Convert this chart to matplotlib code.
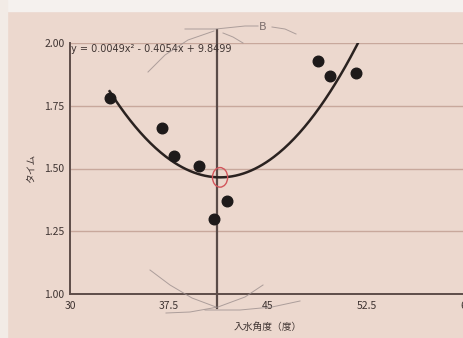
import numpy as np
import matplotlib
matplotlib.use("Agg")
import matplotlib.pyplot as plt
from matplotlib.patches import Ellipse, Rectangle

plt.rcParams['font.family'] = ['Noto Sans CJK JP', 'DejaVu Sans']

# --- data ---
angle = [33.0, 37.0, 37.9, 39.8, 40.9, 41.9, 48.8, 49.7, 51.7]
time_s = [1.78, 1.66, 1.55, 1.51, 1.30, 1.37, 1.93, 1.87, 1.88]
coef = [0.0049, -0.4054, 9.8499]
x_ticks = [30, 37.5, 45, 52.5, 60]
x_tick_labels = ['30', '37.5', '45', '52.5', '60']
y_ticks = [1.00, 1.25, 1.50, 1.75, 2.00]
y_tick_labels = ['1.00', '1.25', '1.50', '1.75', '2.00']
marker_x = 41.1          # vertical line B
x_label = '入水角度（度）'
y_label = 'タイム'
eq_text = 'y = 0.0049x² - 0.4054x + 9.8499'

bg = '#ecd8ce'
ink = '#3f3432'
pencil = '#9c8f8e'

W, H = 464, 338
fig = plt.figure(figsize=(W / 100, H / 100), dpi=100, facecolor=bg)
fig.patches.append(Rectangle((0, 1 - 11 / H), 1, 11 / H, transform=fig.transFigure,
                             color='#f5f1ee', zorder=0))
fig.patches.append(Rectangle((0, 0), 7 / W, 1, transform=fig.transFigure,
                             color='#f2ebe6', zorder=0))

ax = fig.add_axes([70 / W, 44 / H, 396 / W, 251 / H])
ax.set_facecolor(bg)
ax.set_xlim(30, 60)
ax.set_ylim(1.0, 2.0)

for s in ['top', 'right']:
    ax.spines[s].set_visible(False)
for s in ['left', 'bottom']:
    ax.spines[s].set_color('#5e4d49')
    ax.spines[s].set_linewidth(1.4)

ax.set_yticks(y_ticks, y_tick_labels)
ax.set_xticks(x_ticks, x_tick_labels)
ax.tick_params(length=0, labelsize=7.5, labelcolor=ink, pad=4)
ax.tick_params(axis='x', pad=5)
ax.yaxis.grid(True, color='#c8a89c', lw=1.0)
ax.set_axisbelow(True)

# fitted parabola
xs = np.linspace(33, 52.2, 200)
ys = np.polyval(coef, xs)
ax.plot(xs, ys, color='#2a2220', lw=1.8, zorder=3)

ax.scatter(angle, time_s, s=58, color='#1e1a1a', zorder=4)

# vertical line B (drawn past the axes)
ax.plot([marker_x, marker_x], [0.944, 2.052], color='#5a4b48', lw=1.6,
        clip_on=False, zorder=2)

# red circle at the minimum
vx = -coef[1] / (2 * coef[0])
vy = np.polyval(coef, vx)
ax.add_patch(Ellipse((vx, vy), 1.15, 0.078, fill=False, ec='#d2555b', lw=1.0, zorder=5))

ax.text(30.1, 1.995, eq_text, fontsize=7, color=ink, va='top', ha='left',
        family=['DejaVu Sans'], zorder=6)

ax.set_xlabel(x_label, fontsize=7, color=ink, labelpad=8)
ax.set_ylabel(y_label, fontsize=7, color=ink, labelpad=6)

# pencil compass marks (figure pixels)
def px(pts):
    a = np.array(pts, dtype=float)
    return a[:, 0] / W, 1 - a[:, 1] / H

arcs = [
    [(148, 72), (165, 55), (188, 40), (214, 31)],
    [(185, 29), (216, 29), (245, 26), (258, 26)],
    [(272, 27), (285, 29), (296, 34)],
    [(223, 33), (233, 37), (243, 43)],
    [(150, 270), (170, 285), (192, 298), (216, 307)],
    [(263, 285), (245, 297), (218, 307), (190, 312), (166, 313)],
    [(205, 310), (240, 310), (272, 307), (300, 301)],
]
for a in arcs:
    fx, fy = px(a)
    fig.add_artist(plt.Line2D(fx, fy, transform=fig.transFigure, color=pencil,
                              lw=0.7, alpha=0.8))
fig.text(263 / W, 1 - 27 / H, 'B', fontsize=8, color='#7d6f6e', ha='center',
         va='center', family=['DejaVu Sans'])

fig.savefig('out.png', dpi=100, facecolor=bg)
